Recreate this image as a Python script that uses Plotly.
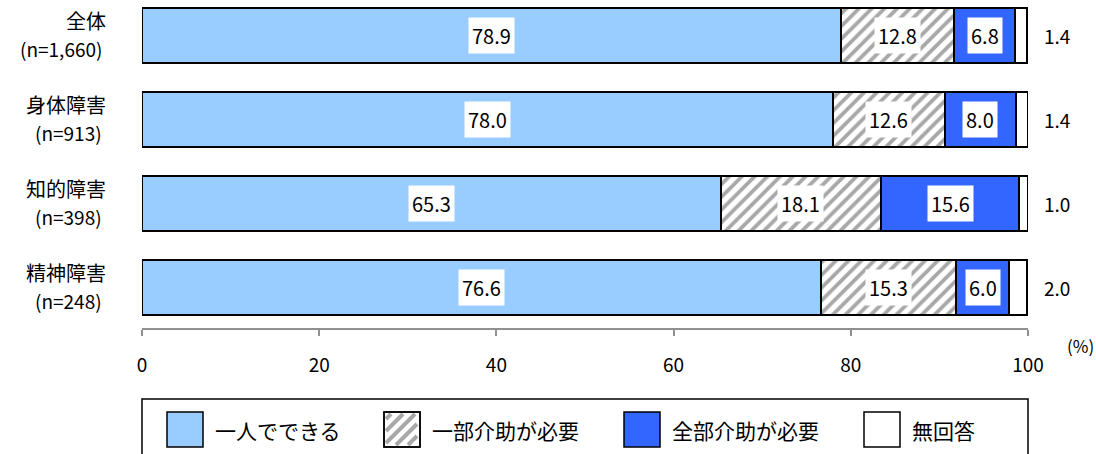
import plotly.graph_objects as go

# Data
categories = ["全体", "身体障害", "知的障害", "精神障害"]
sample_sizes = ["(n=1,660)", "(n=913)", "(n=398)", "(n=248)"]
series_names = ["一人でできる", "一部介助が必要", "全部介助が必要", "無回答"]
alone = [78.9, 78.0, 65.3, 76.6]
partial_help = [12.8, 12.6, 18.1, 15.3]
full_help = [6.8, 8.0, 15.6, 6.0]
no_answer = [1.4, 1.4, 1.0, 2.0]
x_ticks = [0, 20, 40, 60, 80, 100]

series_values = [alone, partial_help, full_help, no_answer]

W, H = 1096, 454
ML, MR, MT, MB = 142, 68, 0, 126
PW, PH = W - ML - MR, H - MT - MB

FONT = "Noto Sans CJK JP"
LIGHT_BLUE = "#99CCFF"
BLUE = "#3366FF"
HATCH = "#A8A8A8"


def px(xp):
    return (xp - ML) / PW


def py(yp):
    return (H - MB - yp) / PH


fig = go.Figure()

styles = [
    dict(color=LIGHT_BLUE),
    dict(color="white", pattern=dict(shape="/", fgcolor=HATCH, bgcolor="white",
                                     size=9, solidity=0.42, fillmode="replace")),
    dict(color=BLUE),
    dict(color="white"),
]

for name, vals, st in zip(series_names, series_values, styles):
    fig.add_trace(go.Bar(
        y=categories, x=vals, name=name, orientation="h", width=0.655,
        marker=dict(line=dict(color="black", width=2), **st),
        showlegend=False, hoverinfo="x+name",
    ))

annotations = []
# value labels inside segments (first three series), outside for no answer
for ci, cat in enumerate(categories):
    left = 0.0
    for si, vals in enumerate(series_values):
        v = vals[ci]
        if si < 3:
            annotations.append(dict(
                x=left + v / 2, y=cat, xref="x", yref="y", text=f"{v:.1f}",
                showarrow=False, bgcolor="white", borderpad=3,
                font=dict(family=FONT, size=20, color="black"),
            ))
        else:
            annotations.append(dict(
                x=100, y=cat, xref="x", yref="y", text=f"{v:.1f}",
                showarrow=False, xanchor="left", xshift=14,
                font=dict(family=FONT, size=19, color="black"),
            ))
        left += v

# category labels (two lines each, right aligned)
for ci, (cat, n) in enumerate(zip(categories, sample_sizes)):
    annotations.append(dict(
        x=0, y=cat, xref="paper", yref="y", text=cat, showarrow=False,
        xanchor="right", yanchor="middle", xshift=-34, yshift=14.5,
        font=dict(family=FONT, size=20, color="black"),
    ))
    annotations.append(dict(
        x=0, y=cat, xref="paper", yref="y", text=n, showarrow=False,
        xanchor="right", yanchor="middle", xshift=-38, yshift=-13,
        font=dict(family=FONT, size=19, color="black"),
    ))

# unit label
annotations.append(dict(
    x=px(1080), y=py(345), xref="paper", yref="paper", text="(%)",
    showarrow=False, xanchor="center", yanchor="middle",
    font=dict(family=FONT, size=17, color="black"),
))

# custom legend
SW_TOP, SW_SIDE = 412, 35
shapes = [dict(type="rect", xref="paper", yref="paper",
               x0=px(142), x1=px(1028), y0=py(399), y1=py(470),
               line=dict(color="black", width=1.5), fillcolor="white")]
swatch_x = [167, 384, 624, 864]
swatch_fill = [LIGHT_BLUE, "white", BLUE, "white"]
for sx, fill, name in zip(swatch_x, swatch_fill, series_names):
    shapes.append(dict(type="rect", xref="paper", yref="paper",
                       x0=px(sx), x1=px(sx + SW_SIDE + 1),
                       y0=py(SW_TOP + SW_SIDE), y1=py(SW_TOP),
                       line=dict(color="black", width=1.5), fillcolor=fill))
    annotations.append(dict(
        x=px(sx + 46), y=py(430), xref="paper", yref="paper", text=name,
        showarrow=False, xanchor="left", yanchor="middle",
        font=dict(family=FONT, size=21, color="black"),
    ))

# diagonal hatch inside the second swatch
hx0, hy0 = swatch_x[1], SW_TOP
inset = 2
lo_x, hi_x = hx0 + inset, hx0 + SW_SIDE - inset
lo_y, hi_y = hy0 + inset, hy0 + SW_SIDE - inset
path = ""
for k in range(-26, 34, 12):
    xa, ya = lo_x + k, hi_y
    xb, yb = lo_x + k + (hi_y - lo_y), lo_y
    if xa < lo_x:
        ya -= lo_x - xa
        xa = lo_x
    if xb > hi_x:
        yb += xb - hi_x
        xb = hi_x
    if xa >= xb:
        continue
    path += f"M{px(xa)},{py(ya)} L{px(xb)},{py(yb)} "
shapes.append(dict(type="path", xref="paper", yref="paper", path=path,
                   line=dict(color=HATCH, width=4)))
# swatch border drawn again above the hatch
shapes.append(dict(type="rect", xref="paper", yref="paper",
                   x0=px(hx0), x1=px(hx0 + SW_SIDE + 1),
                   y0=py(SW_TOP + SW_SIDE), y1=py(SW_TOP),
                   line=dict(color="black", width=1.5)))

fig.update_layout(
    width=W, height=H,
    margin=dict(l=ML, r=MR, t=MT, b=MB),
    barmode="stack",
    plot_bgcolor="white", paper_bgcolor="white",
    font=dict(family=FONT, size=18, color="black"),
    xaxis=dict(
        range=[0, 100], tickvals=x_ticks, showgrid=False, zeroline=False,
        showline=True, linecolor="#909090", linewidth=2,
        ticks="outside", ticklen=6, tickwidth=2, tickcolor="#909090",
        ticklabelstandoff=13, tickfont=dict(family=FONT, size=19, color="black"),
    ),
    yaxis=dict(
        type="category", categoryorder="array", categoryarray=categories,
        range=[3.488, -0.417], showticklabels=False, showgrid=False,
        zeroline=False, showline=False,
    ),
    annotations=annotations,
    shapes=shapes,
    bargap=0,
)

fig.write_html("out.html")
